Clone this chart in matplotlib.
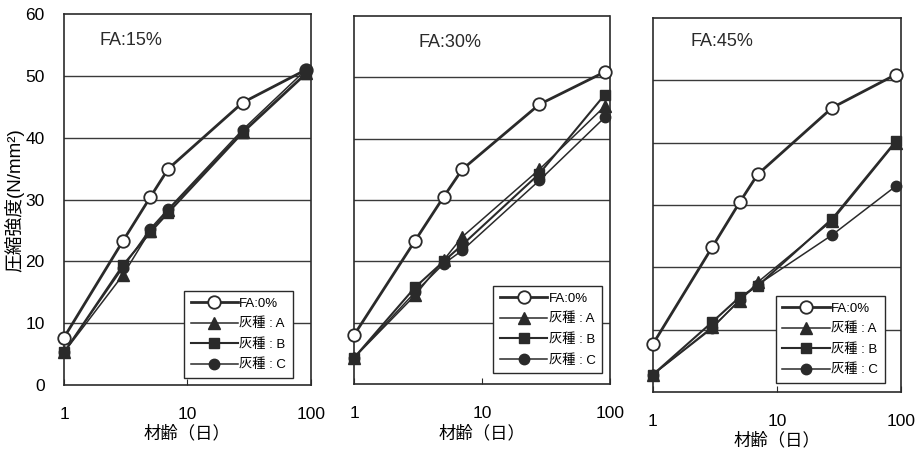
import numpy as np
import matplotlib.pyplot as plt

plt.rcParams['font.family'] = ['Liberation Sans', 'Noto Sans CJK JP', 'DejaVu Sans']

# 材齢(日)
days = [1, 3, 5, 7, 28, 91]

titles = ['FA:15%', 'FA:30%', 'FA:45%']
names = ['FA:0%', '灰種 : A', '灰種 : B', '灰種 : C']

# 圧縮強度 (N/mm2), 各パネル: FA:0%, A, B, C
fa15_base = [7.7, 23.3, 30.4, 35.0, 45.7, 51.0]
fa15_a = [5.3, 17.8, 25.0, 28.3, 41.0, 50.5]
fa15_b = [5.3, 19.4, 24.7, 27.9, 40.8, 50.3]
fa15_c = [5.3, 19.0, 25.3, 28.5, 41.3, 51.0]

fa30_base = [8.0, 23.4, 30.5, 35.0, 45.6, 50.9]
fa30_a = [4.3, 14.5, 20.2, 24.0, 35.0, 45.3]
fa30_b = [4.3, 15.8, 20.0, 22.7, 34.3, 47.2]
fa30_c = [4.3, 15.0, 19.6, 21.8, 33.2, 43.5]

fa45_base = [7.7, 23.2, 30.4, 34.9, 45.6, 50.9]
fa45_a = [2.8, 10.4, 14.6, 17.6, 27.5, 40.0]
fa45_b = [2.8, 11.2, 15.2, 17.0, 27.8, 40.2]
fa45_c = [2.8, 10.2, 14.8, 17.2, 25.2, 33.0]

panels = [
    [fa15_base, fa15_a, fa15_b, fa15_c],
    [fa30_base, fa30_a, fa30_b, fa30_c],
    [fa45_base, fa45_a, fa45_b, fa45_c],
]

ink = '#2a2a2a'
styles = [
    dict(marker='o', ms=9, mfc='white', mec=ink, mew=1.3, lw=2.0),
    dict(marker='^', ms=8, mfc=ink, mec=ink, lw=1.1),
    dict(marker='s', ms=7.5, mfc=ink, mec=ink, lw=1.5),
    dict(marker='o', ms=7.5, mfc=ink, mec=ink, lw=1.1),
]

fig = plt.figure(figsize=(9.21, 4.59), dpi=100)
rects = [
    [0.0695, 0.161, 0.268, 0.808],
    [0.3844, 0.163, 0.278, 0.802],
    [0.709, 0.146, 0.269, 0.815],
]
title_pos = [(0.145, 0.93), (0.25, 0.927), (0.153, 0.936)]
legend_pos = [(0.927, 0.019), (0.969, 0.03), (0.935, 0.024)]

for i, rect in enumerate(rects):
    ax = fig.add_axes(rect)
    ax.set_xscale('log')
    ax.set_xlim(1, 100)
    ax.set_ylim(0, 60)
    for y in range(10, 60, 10):
        ax.axhline(y, color='#3a3a3a', lw=1.0, zorder=1)
    for series, name, st in zip(panels[i], names, styles):
        ax.plot(days, series, color=ink, label=name, zorder=3, clip_on=False, **st)

    ax.set_xticks([1, 10, 100])
    ax.set_xticklabels(['1', '10', '100'])
    ax.xaxis.set_minor_locator(plt.NullLocator())
    ax.tick_params(axis='x', direction='in', length=4, pad=16, labelsize=12.5, color=ink)
    ax.set_yticks(range(0, 61, 10))
    if i == 0:
        ax.tick_params(axis='y', length=0, pad=14, labelsize=12.5)
        ax.set_ylabel('圧縮強度(N/mm²)', fontsize=13.5, labelpad=1)
    else:
        ax.tick_params(axis='y', length=0, labelleft=False)
    ax.set_xlabel('材齢（日）', fontsize=12.5, labelpad=2)

    for side in ['top', 'right', 'left']:
        ax.spines[side].set_linestyle((0, (1, 1)))
        ax.spines[side].set_linewidth(1.2)
        ax.spines[side].set_color(ink)
    ax.spines['bottom'].set_linewidth(1.2)
    ax.spines['bottom'].set_color(ink)

    tx, ty = title_pos[i]
    ax.text(tx, ty, titles[i], transform=ax.transAxes, fontsize=13,
            va='center', ha='left', color=ink)

    leg = ax.legend(loc='lower right', bbox_to_anchor=legend_pos[i], fontsize=9.5,
                    handlelength=3.6, fancybox=False, framealpha=1,
                    edgecolor=ink, borderpad=0.5, labelspacing=0.6,
                    handletextpad=0.1, borderaxespad=0)
    leg.get_frame().set_linewidth(1.0)
    leg.set_zorder(5)

fig.savefig('out.png', dpi=100)
